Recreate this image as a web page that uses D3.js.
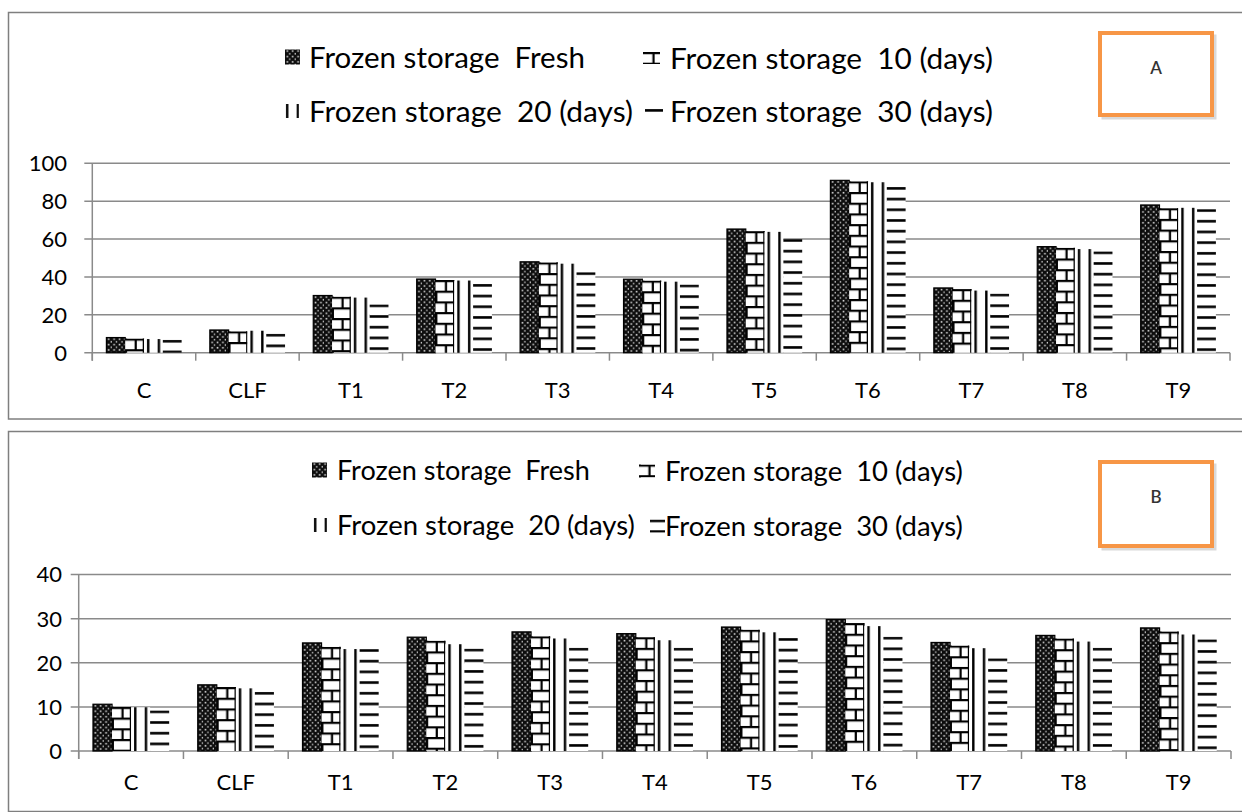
<!DOCTYPE html>
<html>
<head>
<meta charset="utf-8">
<script src="https://cdn.jsdelivr.net/npm/d3@7"></script>
<style>
  body { margin: 0; background: #fff }
  svg { display: block }
  text { font-family: Lato, 'Open Sans', sans-serif; fill: #000 }
</style>
</head>
<body>
<div id="main"></div>
<script>
const categories = ['C', 'CLF', 'T1', 'T2', 'T3', 'T4', 'T5', 'T6', 'T7', 'T8', 'T9']
const seriesNames = ['Frozen storage  Fresh', 'Frozen storage  10 (days)', 'Frozen storage  20 (days)', 'Frozen storage  30 (days)']

// panel A
const freshA = [8, 12, 30.2, 38.9, 48, 38.8, 65.3, 91, 34.2, 56, 78]
const days10A = [7.5, 11.3, 29.6, 38.4, 47.7, 38.1, 64.2, 90.5, 33.6, 55.4, 76.3]
const days20A = [7.2, 11.6, 29.1, 38.1, 47, 37.5, 63.8, 90, 32.8, 54.7, 76.5]
const days30A = [6.8, 10, 25.5, 36.3, 42.5, 36, 60, 87.5, 31.2, 53.5, 75.8]
const ticksA = [0, 20, 40, 60, 80, 100]

// panel B
const freshB = [10.6, 15, 24.5, 25.8, 27, 26.6, 28.1, 29.8, 24.6, 26.2, 27.9]
const days10B = [10, 14.5, 23.6, 25, 26, 25.8, 27.5, 29, 23.9, 25.5, 27.1]
const days20B = [9.9, 14.2, 23.1, 24.2, 25.5, 25.1, 26.9, 28.3, 23.3, 24.8, 26.4]
const days30B = [9.2, 13.4, 23.1, 23.2, 23.4, 23.4, 25.6, 25.9, 21, 23.4, 25.3]
const ticksB = [0, 10, 20, 30, 40]

const W = 1242
const H = 812
const gridColor = '#8a8a8a'
const patternIds = ['pat-fresh', 'pat-brick', 'pat-vert', 'pat-horiz']

const svg = d3.select('#main')
  .append('svg')
  .attr('width', W)
  .attr('height', H)

function createPatterns () {
  const defs = svg.append('defs')

  const fresh = defs.append('pattern')
    .attr('id', 'pat-fresh')
    .attr('patternUnits', 'userSpaceOnUse')
    .attr('width', 5.4)
    .attr('height', 5.4)
  fresh.append('rect').attr('width', 5.4).attr('height', 5.4).style('fill', '#0d0d0d')
  fresh.append('rect').attr('x', 1.5).attr('y', 0.8).attr('width', 1.6).attr('height', 1.6).style('fill', '#d8d8d8')
  fresh.append('rect').attr('x', 4.2).attr('y', 3.5).attr('width', 1.6).attr('height', 1.6).style('fill', '#d8d8d8')

  const brick = defs.append('pattern')
    .attr('id', 'pat-brick')
    .attr('patternUnits', 'userSpaceOnUse')
    .attr('width', 21.4)
    .attr('height', 21.4)
  brick.append('rect').attr('width', 21.4).attr('height', 21.4).style('fill', '#fff')
  brick.append('path')
    .attr('d', 'M0 1 H21.4 M0 11.7 H21.4 M10.5 1 V11.7 M0.8 11.7 V21.4 M21.2 11.7 V21.4')
    .style('stroke', '#000')
    .style('stroke-width', 2.2)

  const vert = defs.append('pattern')
    .attr('id', 'pat-vert')
    .attr('patternUnits', 'userSpaceOnUse')
    .attr('width', 10.7)
    .attr('height', 10)
  vert.append('rect').attr('width', 10.7).attr('height', 10).style('fill', '#fff')
  vert.append('path')
    .attr('d', 'M4.2 0 V10')
    .style('stroke', '#000')
    .style('stroke-width', 2.4)

  const horiz = defs.append('pattern')
    .attr('id', 'pat-horiz')
    .attr('patternUnits', 'userSpaceOnUse')
    .attr('width', 10)
    .attr('height', 10.7)
  horiz.append('rect').attr('width', 10).attr('height', 10.7).style('fill', '#fff')
  horiz.append('path')
    .attr('d', 'M0 1.4 H10')
    .style('stroke', '#000')
    .style('stroke-width', 2.6)
}

function fitFont (sel, target, base) {
  sel.style('font-size', `${base}px`)
  const w = sel.node().getComputedTextLength()
  const size = base * target / w
  sel.style('font-size', `${size}px`)
  return size
}

function drawPanel (cfg) {
  const g = svg.append('g')

  g.append('rect')
    .attr('x', cfg.frame[0])
    .attr('y', cfg.frame[1])
    .attr('width', cfg.frame[2])
    .attr('height', cfg.frame[3])
    .style('fill', '#fff')
    .style('stroke', '#7f7f7f')
    .style('stroke-width', 1.5)

  const x0 = d3.scaleBand()
    .domain(categories)
    .range([cfg.left, cfg.right])
    .paddingInner(0)
    .paddingOuter(0)

  // 4 bars + gap of 1.5 bar widths (Excel gap 150%)
  const barW = x0.bandwidth() / 5.5
  const x1 = d3.scaleBand()
    .domain(d3.range(4))
    .range([barW * 0.75, barW * 4.75])

  const y = d3.scaleLinear()
    .domain(cfg.domain)
    .range([cfg.bottom, cfg.top])

  // gridlines
  g.selectAll('.grid')
    .data(cfg.ticks)
    .enter()
    .append('line')
    .attr('class', 'grid')
    .attr('x1', cfg.left - 8)
    .attr('x2', cfg.right)
    .attr('y1', (d) => y(d))
    .attr('y2', (d) => y(d))
    .style('stroke', gridColor)
    .style('stroke-width', 1.5)

  // axis lines
  g.append('line')
    .attr('x1', cfg.left)
    .attr('x2', cfg.left)
    .attr('y1', y(cfg.domain[1]))
    .attr('y2', cfg.bottom + 8)
    .style('stroke', gridColor)
    .style('stroke-width', 1.5)

  const bounds = categories.map((c) => x0(c)).concat([cfg.right])
  g.selectAll('.xtick')
    .data(bounds)
    .enter()
    .append('line')
    .attr('class', 'xtick')
    .attr('x1', (d) => d)
    .attr('x2', (d) => d)
    .attr('y1', cfg.bottom)
    .attr('y2', cfg.bottom + 8)
    .style('stroke', gridColor)
    .style('stroke-width', 1.5)

  g.selectAll('.ylab')
    .data(cfg.ticks)
    .enter()
    .append('text')
    .attr('class', 'ylab')
    .attr('x', cfg.labelX)
    .attr('y', (d) => y(d))
    .attr('dy', '0.36em')
    .attr('text-anchor', 'end')
    .style('font-size', `${cfg.tickFont}px`)
    .text((d) => d)

  g.selectAll('.xlab')
    .data(categories)
    .enter()
    .append('text')
    .attr('class', 'xlab')
    .attr('x', (d) => x0(d) + x0.bandwidth() / 2)
    .attr('y', cfg.catY)
    .attr('dy', '0.36em')
    .attr('text-anchor', 'middle')
    .style('font-size', `${cfg.tickFont}px`)
    .text((d) => d)

  // bars, each pattern anchored at its bar's top-left corner
  const groups = g.selectAll('.cat')
    .data(categories.map((c, i) => ({ c, vals: cfg.series.map((s) => s[i]) })))
    .enter()
    .append('g')
    .attr('class', 'cat')

  groups.each(function (d) {
    d.vals.forEach((v, k) => {
      const bx = x0(d.c) + x1(k)
      const h = cfg.bottom - y(v)
      const bar = d3.select(this)
        .append('g')
        .attr('transform', `translate(${bx},${y(v)})`)
      bar.append('rect')
        .attr('x', 0)
        .attr('y', 0)
        .attr('width', barW)
        .attr('height', h)
        .style('fill', `url(#${patternIds[k]})`)
        .style('stroke', k === 0 ? '#000' : 'none')
        .style('stroke-width', k === 0 ? 1.2 : 0)
      if (k === 1) {
        bar.append('line')
          .attr('x1', barW - 0.6)
          .attr('x2', barW - 0.6)
          .attr('y1', 0)
          .attr('y2', h)
          .style('stroke', '#000')
          .style('stroke-width', 1.4)
      }
    })
  })

  // legend
  cfg.legend.forEach((item, k) => {
    const sw = g.append('g').attr('transform', `translate(${item.sx},${item.cy - item.sh / 2})`)
    sw.append('rect')
      .attr('width', item.sw)
      .attr('height', item.sh)
      .style('fill', `url(#${patternIds[k]})`)
    const t = g.append('text')
      .attr('x', item.tx)
      .attr('y', item.cy)
      .attr('dy', '0.36em')
      .style('white-space', 'pre')
      .text(seriesNames[k])
    fitFont(t, item.tw, 22)
  })

  // letter box
  const b = cfg.box
  g.append('rect')
    .attr('x', b[0] + 3)
    .attr('y', b[1] + 3)
    .attr('width', b[2])
    .attr('height', b[3])
    .style('fill', 'none')
    .style('stroke', '#d9d9d9')
    .style('stroke-width', 3)
  g.append('rect')
    .attr('x', b[0])
    .attr('y', b[1])
    .attr('width', b[2])
    .attr('height', b[3])
    .style('fill', '#fff')
    .style('stroke', '#f79646')
    .style('stroke-width', 4)
  g.append('text')
    .attr('x', b[0] + b[2] / 2)
    .attr('y', b[1] + 35)
    .attr('dy', '0.36em')
    .attr('text-anchor', 'middle')
    .style('font-size', '17px')
    .style('font-weight', 600)
    .style('fill', '#333')
    .text(cfg.letter)
}

createPatterns()

drawPanel({
  frame: [8.5, 12.5, 1240, 406.5],
  left: 92.3,
  right: 1230,
  top: 163.3,
  bottom: 352.7,
  domain: [0, 100],
  ticks: ticksA,
  series: [freshA, days10A, days20A, days30A],
  labelX: 67,
  catY: 390,
  tickFont: 22,
  legend: [
    { sx: 285, sw: 15, sh: 15, cy: 57, tx: 309, tw: 276 },
    { sx: 643, sw: 17, sh: 12, cy: 58, tx: 670, tw: 323 },
    { sx: 283, sw: 16, sh: 14, cy: 111, tx: 309, tw: 324 },
    { sx: 645, sw: 18, sh: 4, cy: 111, tx: 670, tw: 323 }
  ],
  box: [1100, 33, 112, 82],
  letter: 'A'
})

drawPanel({
  frame: [8.5, 431.5, 1240, 380],
  left: 78.7,
  right: 1231,
  top: 574.5,
  bottom: 751,
  domain: [0, 40],
  ticks: ticksB,
  series: [freshB, days10B, days20B, days30B],
  labelX: 62,
  catY: 782,
  tickFont: 22,
  legend: [
    { sx: 312, sw: 15, sh: 15, cy: 470, tx: 337, tw: 253 },
    { sx: 639, sw: 16, sh: 13, cy: 471, tx: 665, tw: 298 },
    { sx: 311, sw: 16, sh: 14, cy: 525, tx: 337, tw: 298 },
    { sx: 650, sw: 15, sh: 13, cy: 526, tx: 665, tw: 298 }
  ],
  box: [1100, 462, 112, 84],
  letter: 'B'
})
</script>
</body>
</html>
